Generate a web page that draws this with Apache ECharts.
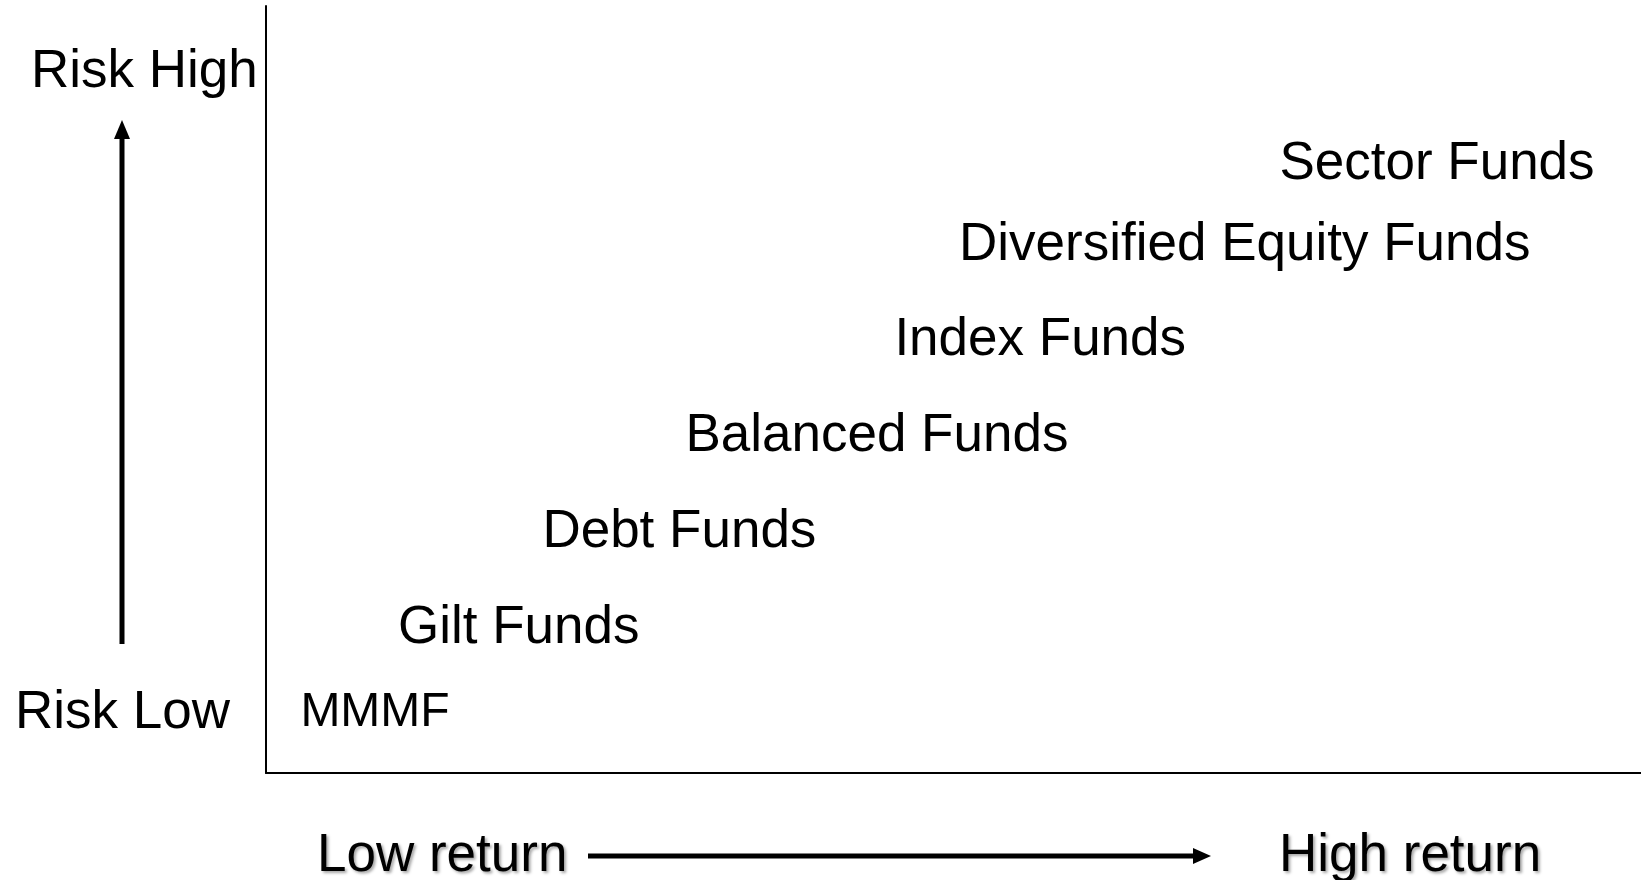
<!DOCTYPE html>
<html>
<head>
<meta charset="utf-8">
<script src="https://cdn.jsdelivr.net/npm/echarts@6/dist/echarts.min.js"></script>
<style>
  html, body { margin: 0; padding: 0; background: #fff; }
  #chartWrap { width: 1641px; height: 880px; }
</style>
</head>
<body>
<div id="chartWrap"></div>
<script>
// fund types, placed by return (x) and risk (y), 0-100 scale
var funds = ['MMMF', 'Gilt Funds', 'Debt Funds', 'Balanced Funds', 'Index Funds', 'Diversified Equity Funds', 'Sector Funds'];
var returnVals = [2.5, 9.6, 20.1, 30.5, 45.7, 50.4, 73.7];
var riskVals = [7.8, 18.8, 31.4, 43.9, 56.4, 68.8, 79.4];

var FONT = 'Arial, "Liberation Sans", sans-serif';

var seriesData = [];
for (var i = 0; i < funds.length; i++) {
  seriesData.push({
    name: funds[i],
    value: [returnVals[i], riskVals[i]],
    label: { fontSize: funds[i] == 'MMMF' ? 48 : 53 }
  });
}

var myChart = echarts.init(document.getElementById('chartWrap'));

var option = {
  backgroundColor: '#fff',
  animation: false,
  grid: { left: 266, top: 6, right: 0, bottom: 107 },
  xAxis: {
    type: 'value', min: 0, max: 100,
    axisLine: { show: true, lineStyle: { color: '#000', width: 2 } },
    axisTick: { show: false }, axisLabel: { show: false }, splitLine: { show: false }
  },
  yAxis: {
    type: 'value', min: 0, max: 100,
    axisLine: { show: true, lineStyle: { color: '#000', width: 2 } },
    axisTick: { show: false }, axisLabel: { show: false }, splitLine: { show: false }
  },
  series: [{
    type: 'scatter',
    symbolSize: 0,
    itemStyle: { opacity: 1 },
    data: seriesData,
    label: {
      show: true,
      position: 'right',
      distance: 0,
      color: '#000',
      fontFamily: FONT,
      formatter: function (p) { return p.name; }
    }
  }],
  graphic: [
    // vertical risk arrow
    { type: 'line', shape: { x1: 122, y1: 644, x2: 122, y2: 134 }, style: { stroke: '#000', lineWidth: 5 } },
    { type: 'polygon', shape: { points: [[122, 120], [114, 139], [130, 139]] }, style: { fill: '#000' } },
    { type: 'text', x: 31, y: 72, style: { text: 'Risk High', fontSize: 53, fontFamily: FONT, fill: '#000', verticalAlign: 'middle' } },
    { type: 'text', x: 15, y: 713, style: { text: 'Risk Low', fontSize: 53, fontFamily: FONT, fill: '#000', verticalAlign: 'middle' } },
    // horizontal return arrow
    { type: 'line', shape: { x1: 588, y1: 856, x2: 1196, y2: 856 }, style: { stroke: '#000', lineWidth: 5 } },
    { type: 'polygon', shape: { points: [[1211, 856], [1193, 848], [1193, 864]] }, style: { fill: '#000' } },
    { type: 'text', x: 317, y: 856, style: { text: 'Low return', fontSize: 53, fontFamily: FONT, fill: '#000', verticalAlign: 'middle',
      textShadowColor: 'rgba(0,0,0,0.35)', textShadowBlur: 3, textShadowOffsetX: 2, textShadowOffsetY: 2 } },
    { type: 'text', x: 1279, y: 856, style: { text: 'High return', fontSize: 53, fontFamily: FONT, fill: '#000', verticalAlign: 'middle',
      textShadowColor: 'rgba(0,0,0,0.35)', textShadowBlur: 3, textShadowOffsetX: 2, textShadowOffsetY: 2 } }
  ]
};

myChart.setOption(option);
</script>
</body>
</html>
